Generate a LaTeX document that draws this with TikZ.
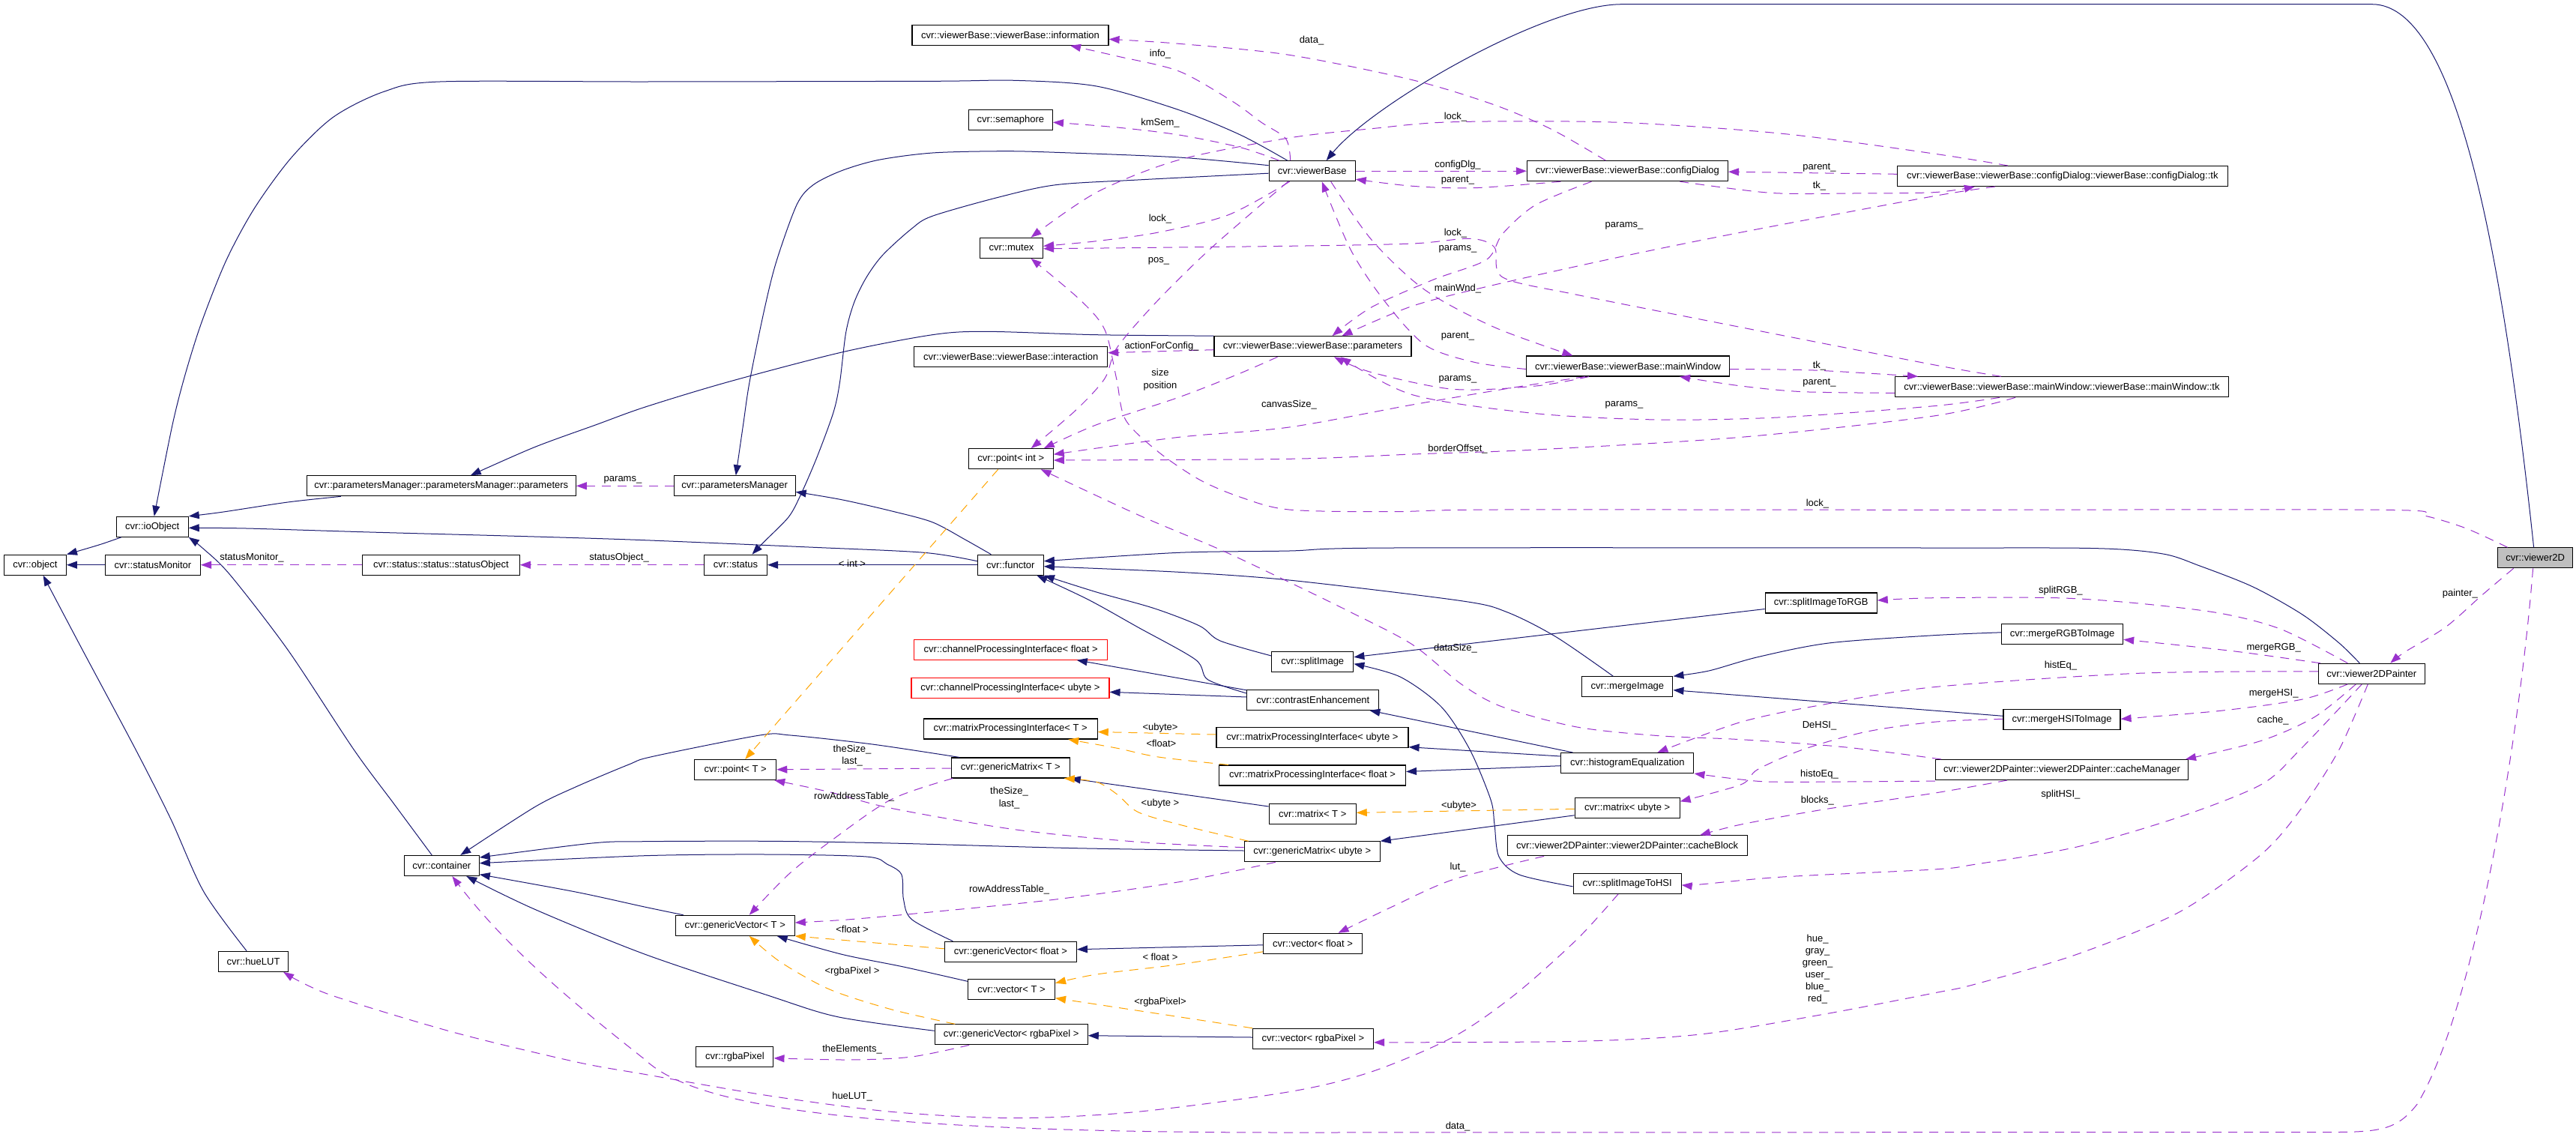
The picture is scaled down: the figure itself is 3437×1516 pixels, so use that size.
\documentclass[tikz,border=0pt]{standalone}
\usepackage{fontspec}
\setmainfont{Liberation Sans}
\usetikzlibrary{arrows.meta}
\definecolor{eblue}{HTML}{191970}
\definecolor{epurple}{HTML}{9A32CD}
\definecolor{eorange}{HTML}{FFA500}
\definecolor{vgray}{HTML}{BFBFBF}
\begin{document}
\begin{tikzpicture}[x=1pt,y=-1pt,
  box/.style={draw=black,line width=1.1pt,fill=white,minimum height=27pt,inner sep=0pt,font=\fontsize{13}{16}\selectfont},
  rbox/.style={box,draw=red},
  lab/.style={inner sep=0pt,font=\fontsize{13}{16.5}\selectfont,align=center},
  inh/.style={draw=eblue,line width=1pt,-{Triangle[length=14pt,width=10pt]}},
  use/.style={draw=epurple,line width=1pt,dash pattern=on 12pt off 9pt,-{Triangle[length=14pt,width=10pt]}},
  tmpl/.style={draw=eorange,line width=1pt,dash pattern=on 12pt off 9pt,-{Triangle[length=14pt,width=10pt]}}]
\fill[white] (0,0) rectangle (3437,1516);
\useasboundingbox (0,0) rectangle (3437,1516);
% nodes
\node[box,minimum width=262pt] (info) at (1348,46.8) {cvr::viewerBase::viewerBase::information};
\node[box,minimum width=112pt] (sem) at (1348.4,160.2) {cvr::semaphore};
\node[box,minimum width=84pt] (mutex) at (1349.5,330.8) {cvr::mutex};
\node[box,minimum width=258pt] (inter) at (1348.7,476.3) {cvr::viewerBase::viewerBase::interaction};
\node[box,minimum width=115pt] (vb) at (1750.7,228.2) {cvr::viewerBase};
\node[box,minimum width=263pt] (vbp) at (1751.5,462.2) {cvr::viewerBase::viewerBase::parameters};
\node[box,minimum width=268pt] (cd) at (2171.4,228.2) {cvr::viewerBase::viewerBase::configDialog};
\node[box,minimum width=271pt] (mw) at (2172,488.5) {cvr::viewerBase::viewerBase::mainWindow};
\node[box,minimum width=441pt] (cdtk) at (2751.8,235) {cvr::viewerBase::viewerBase::configDialog::viewerBase::configDialog::tk};
\node[box,minimum width=445pt] (mwtk) at (2751,516.3) {cvr::viewerBase::viewerBase::mainWindow::viewerBase::mainWindow::tk};
\node[box,minimum width=359pt] (pmp) at (588.8,648.3) {cvr::parametersManager::parametersManager::parameters};
\node[box,minimum width=96pt] (io) at (203.2,702.8) {cvr::ioObject};
\node[box,minimum width=83pt] (obj) at (46.9,753.7) {cvr::object};
\node[box,minimum width=127pt] (sm) at (204,753.7) {cvr::statusMonitor};
\node[box,minimum width=209.5pt] (so) at (588.5,753.7) {cvr::status::status::statusObject};
\node[box,minimum width=162pt] (pm) at (980.1,648.3) {cvr::parametersManager};
\node[box,minimum width=84pt] (st) at (981.5,753.7) {cvr::status};
\node[box,minimum width=88pt] (fn) at (1348.3,753.7) {cvr::functor};
\node[box,minimum width=113pt] (pi) at (1348.7,612.2) {cvr::point< int >};
\node[rbox,minimum width=258pt] (cpf) at (1348.7,866.7) {cvr::channelProcessingInterface< float >};
\node[rbox,minimum width=264pt] (cpu) at (1348,917.7) {cvr::channelProcessingInterface< ubyte >};
\node[box,minimum width=232pt] (mpt) at (1348.2,972.5) {cvr::matrixProcessingInterface< T >};
\node[box,minimum width=176pt] (ce) at (1751.8,933.8) {cvr::contrastEnhancement};
\node[box,minimum width=109pt] (si) at (1751.3,882.7) {cvr::splitImage};
\node[box,minimum width=256pt] (mpu) at (1751,984.2) {cvr::matrixProcessingInterface< ubyte >};
\node[box,minimum width=249pt] (mpf) at (1751,1034.5) {cvr::matrixProcessingInterface< float >};
\node[box,minimum width=158pt] (gmt) at (1348.2,1024.5) {cvr::genericMatrix< T >};
\node[box,minimum width=109pt] (ptt) at (981.2,1027) {cvr::point< T >};
\node[box,minimum width=116pt] (mt) at (1751.2,1085.8) {cvr::matrix< T >};
\node[box,minimum width=181pt] (gmu) at (1750.7,1136.3) {cvr::genericMatrix< ubyte >};
\node[box,minimum width=159pt] (gvt) at (980.7,1234.8) {cvr::genericVector< T >};
\node[box,minimum width=176pt] (gvf) at (1348.4,1269.8) {cvr::genericVector< float >};
\node[box,minimum width=116pt] (vt) at (1349.5,1320.3) {cvr::vector< T >};
\node[box,minimum width=204pt] (gvr) at (1349.2,1380.3) {cvr::genericVector< rgbaPixel >};
\node[box,minimum width=103pt] (rgba) at (980.4,1409.8) {cvr::rgbaPixel};
\node[box,minimum width=132pt] (vf) at (1751.5,1258.8) {cvr::vector< float >};
\node[box,minimum width=161pt] (vr) at (1752,1385.8) {cvr::vector< rgbaPixel >};
\node[box,minimum width=100pt] (cont) at (589.3,1155) {cvr::container};
\node[box,minimum width=93pt] (hue) at (338.1,1282.8) {cvr::hueLUT};
\node[box,minimum width=149pt] (srgb) at (2429.7,804.5) {cvr::splitImageToRGB};
\node[box,minimum width=121pt] (mi) at (2171.4,916.3) {cvr::mergeImage};
\node[box,minimum width=177pt] (he) at (2171.4,1018) {cvr::histogramEqualization};
\node[box,minimum width=140pt] (mu) at (2171.1,1077.8) {cvr::matrix< ubyte >};
\node[box,minimum width=320pt] (cb) at (2171.1,1128.3) {cvr::viewer2DPainter::viewer2DPainter::cacheBlock};
\node[box,minimum width=144pt] (shsi) at (2171.1,1178.8) {cvr::splitImageToHSI};
\node[box,fill=vgray,minimum width=100pt] (v2d) at (3382.6,744.3) {cvr::viewer2D};
\node[box,minimum width=142pt] (pa) at (3164.3,898.8) {cvr::viewer2DPainter};
\node[box,minimum width=162pt] (mrgb) at (2751.6,845.8) {cvr::mergeRGBToImage};
\node[box,minimum width=156pt] (mhsi) at (2751,960.3) {cvr::mergeHSIToImage};
\node[box,minimum width=337pt] (cm) at (2751,1027) {cvr::viewer2DPainter::viewer2DPainter::cacheManager};
% inheritance edges
\draw[inh] plot[smooth] coordinates {([xshift=7pt]io.south west) (132,727) (obj.north east)};
\draw[inh] (sm.west) -- (obj.east);
\draw[inh] plot[smooth] coordinates {([xshift=-9pt]hue.north) (272,1190) (228,1093) (181,1000) (110,867) ([xshift=10.7pt]obj.south)};
\draw[inh] plot[smooth] coordinates {([xshift=-13pt]cont.north) (526,1073) (472,1000) (384,867) (307,767) (270,731) (io.south east)};
\draw[inh] plot[smooth] coordinates {([xshift=-33pt]vb.north) (1655,180) (1573,146.7) (1463,115) (1353.6,107.3) (1244,108.3) (860,109) (587,109) (513,122) (445,156) (389,210) (340,277) (302,347) (269,430) (247,500) (230,567) ([xshift=2.5pt]io.north)};
\draw[inh] plot[smooth] coordinates {([yshift=7.5pt]vb.west) (1573,210) (1408.5,203.3) (1337,201.7) (1244,204) (1172.6,213.3) (1123,227.7) (1085,246.7) (1063,273.3) (1035.5,350) (1019,416.7) (1000,510) (991.6,566.7) ([xshift=1.7pt]pm.north)};
\draw[inh] plot[smooth] coordinates {([yshift=-3pt]vb.west) (1518,240) (1408.5,246.7) (1331.7,263.3) (1244,288.3) (1216.5,305) (1178,340) (1156,370) (1139.7,403.3) (1128.7,443.3) (1120.5,510) (1112,550) (1090,610) (1068.4,660) (1052,690) (1019,723.3) ([xshift=22pt]st.north)};
\draw[inh] plot[smooth] coordinates {(vbp.north west) (1463,446.7) (1315,442.3) (1244,446.7) (1123,470) (970,510) (860,543.3) (795.3,566.7) (713,596.7) ([xshift=39pt]pmp.north)};
\draw[inh] plot[smooth] coordinates {([xshift=-134pt]pmp.south) (384,670) (296,683.3) (io.north east)};
\draw[inh] plot[smooth] coordinates {([yshift=5pt]fn.west) (1233,737.3) (1079.4,730) (860,720.7) (713,716) (493.6,710) (329,705) ([yshift=-1.5pt]io.east)};
\draw[inh] (fn.west) -- (st.east);
\draw[inh] plot[smooth] coordinates {([xshift=-26pt]fn.north) (1287.8,720) (1244,696.7) (1189,681.7) (1123,666.7) ([yshift=-8pt]pm.east)};
\draw[inh] plot[smooth] coordinates {([yshift=7.7pt]si.west) (1628,855) (1600.4,835) (1540,811.7) (1463,790) (fn.south east)};
\draw[inh] plot[smooth] coordinates {([yshift=8.8pt]ce.west) (1611.4,906.7) (1595,880) (1518,836.7) (1452,800) ([xshift=35pt]fn.south)};
\draw[inh] ([yshift=13pt]ce.west) -- ([xshift=88pt]cpf.south);
\draw[inh] ([yshift=3.8pt]ce.west) -- ([yshift=-5.6pt]cpu.east);
\draw[inh] ([yshift=-8pt]srgb.west) -- ([yshift=6pt]si.east);
\draw[inh] plot[smooth] coordinates {([yshift=-4pt]shsi.west) (2027,1167) (2000,1143) (1994,1100) (1989,1067) (1961,1000) (1923,943) (1868,903) ([yshift=-3pt]si.east)};
\draw[inh] plot[smooth] coordinates {([xshift=-19pt]mi.north) (2076.5,850) (2010.7,816.7) (1950,801.7) (1720,774) (1573,763.3) ([yshift=-2pt]fn.east)};
\draw[inh] plot[smooth] coordinates {([xshift=-16pt]pa.north) (3121,858) (3072,820) (3006,783) (2935,755) (2886,739) (2798.6,731.7) (2580,731) (1857,731) (1720,735) (1573,737.3) ([yshift=5pt]fn.east)};
\draw[inh] plot[smooth] coordinates {([yshift=2pt]mrgb.west) (2580,847.7) (2440,858) (2345,876.7) (2280,895) (mi.north east)};
\draw[inh] ([yshift=5pt]mhsi.west) -- ([yshift=-4.4pt]mi.east);
\draw[inh] ([xshift=-73pt]he.north) -- ([xshift=-13pt]ce.south east);
\draw[inh] ([yshift=9pt]he.west) -- ([yshift=-12.5pt]mpu.east);
\draw[inh] ([yshift=-3.7pt]he.west) -- ([yshift=5pt]mpf.east);
\draw[inh] ([yshift=-10pt]mu.west) -- (gmu.north east);
\draw[inh] ([yshift=9.8pt]mt.west) -- (gmt.south east);
\draw[inh] plot[smooth] coordinates {([xshift=-68pt]gmt.north) (1164,993) (1054.7,981) (1013.6,981) (871,1009.3) (839,1020) (768,1050) (713,1077) ([xshift=25pt]cont.north)};
\draw[inh] plot[smooth] coordinates {([yshift=1.3pt]gmu.west) (1436,1131.7) (1189,1125) (1024.5,1122.3) (860,1122.7) (790,1125) ([yshift=11pt]cont.east)};
\draw[inh] plot[smooth] coordinates {([xshift=-77pt]gvf.north) (1216.5,1226.7) (1205.5,1200) (1202.8,1166.7) (1183.6,1153) (1156,1143) (1024.5,1140) (860,1141.7) ([yshift=3.3pt]cont.east)};
\draw[inh] plot[smooth] coordinates {([xshift=-69pt]gvt.north) (860,1210) (768,1190) ([yshift=-11.7pt]cont.east)};
\draw[inh] plot[smooth] coordinates {([yshift=5pt]gvr.west) (1117.8,1356.7) (1024.5,1328) (860,1273) (713,1213) ([xshift=33pt]cont.south)};
\draw[inh] plot[smooth] coordinates {([yshift=11pt]vt.west) (1205.5,1290) (1123.3,1273.3) ([xshift=56pt]gvt.south)};
\draw[inh] ([yshift=-2pt]vf.west) -- ([yshift=3.1pt]gvf.east);
\draw[inh] ([yshift=1.8pt]vr.west) -- ([yshift=-1.4pt]gvr.east);
\draw[inh] ([xshift=-2pt]v2d.north) .. controls (3340,350) and (3280,5.7) .. (3164.8,5.7) -- (2164,5.7) .. controls (2060,5.7) and (1830,140) .. ([xshift=19pt]vb.north);
% usage edges
\draw[use] (so.west) -- (sm.east);
\draw[use] (st.west) -- (so.east);
\draw[use] (pm.west) -- (pmp.east);
\draw[use] plot[smooth] coordinates {([xshift=-29pt]vb.north) (1715.6,185) (1683,163.3) (1644,135) (1573,95) (1490.7,75) ([xshift=80pt]info.south)};
\draw[use] plot[smooth] coordinates {([xshift=-29pt]cd.north) (2071,173) (1994,140) (1884.5,106.7) (1720,73.3) (1573,58.3) ([yshift=-5.5pt]info.east)};
\draw[use] plot[smooth] coordinates {([xshift=-44pt]vb.north) (1655,196.7) (1573,180) (1490.7,170) ([yshift=-3pt]sem.east)};
\draw[use] plot[smooth] coordinates {([xshift=-30pt]vb.south) (1639,286.7) (1545.6,310) (1463,321.7) ([yshift=2.5pt]mutex.east)};
\draw[use] plot[smooth] coordinates {([xshift=-73pt]cdtk.north) (2580,205) (2378,178.3) (2159,163.3) (1939.4,162.7) (1829.7,171.7) (1720,184) (1573,213.3) (1463,256.7) ([xshift=26pt]mutex.north)};
\draw[use] plot[smooth] coordinates {([xshift=-81pt]mwtk.north) (2580,486.7) (2323,436.7) (2104,393.3) (2005,370) (1994,330) (1961,318.3) (1884.5,325) (1720,328.3) ([yshift=-1pt]mutex.east)};
\draw[use] plot[smooth] coordinates {([xshift=-37pt]v2d.north) (3290.5,705) (3236,688.3) (3181,680.3) (2580,680.3) (1994,680) (1857,682.7) (1720,680) (1655,663.3) (1600.4,640) (1545.6,603) (1501.7,560) (1489.6,505) (1474,440) (1441,400) ([xshift=26pt]mutex.south)};
\draw[use] plot[smooth] coordinates {([xshift=-89pt]cd.south) (1967,250.7) (1884.5,248.3) ([yshift=-11pt]vb.east)};
\draw[use] (vb.east) -- (cd.west);
\draw[use] ([yshift=2.7pt]cdtk.west) -- ([yshift=-1pt]cd.east);
\draw[use] plot[smooth] coordinates {([xshift=70pt]cd.south) (2361.7,257.3) (2470,258) (2580,256.7) ([xshift=-117pt]cdtk.south)};
\draw[use] plot[smooth] coordinates {([xshift=-48pt]cd.south) (2049,273.3) (2005,311.7) (1983,346.7) (1912,373.3) (1829.7,410) ([xshift=26pt]vbp.north)};
\draw[use] plot[smooth] coordinates {([xshift=-90pt]cdtk.south) (2580,261.7) (2323,310) (2159,343.3) (1994,380) (1884.5,408.3) ([xshift=39pt]vbp.north)};
\draw[use] plot[smooth] coordinates {([xshift=25pt]vb.south) (1830,320) (1901,386.7) (1994,436.7) ([xshift=-73.6pt]mw.north)};
\draw[use] plot[smooth] coordinates {([yshift=-4pt]mw.west) (1967,483.3) (1901,460) (1846,400) (1802,333) ([xshift=13pt]vb.south)};
\draw[use] plot[smooth] coordinates {([xshift=-52pt]mw.south) (2049,515) (1939,519.3) (1829.7,496.7) ([xshift=28.5pt]vbp.south)};
\draw[use] plot[smooth] coordinates {([xshift=-83pt]mwtk.south) (2580,541.7) (2378,556.7) (2213.6,560) (2049,551.7) (1884.5,526.7) ([xshift=37pt]vbp.south)};
\draw[use] plot[smooth] coordinates {([yshift=-4pt]mw.east) (2420,494) ([xshift=-192pt]mwtk.north)};
\draw[use] plot[smooth] coordinates {([yshift=-8pt]mwtk.west) (2405.6,522.7) (2323,515) ([xshift=69pt]mw.south)};
\draw[use] plot[smooth] coordinates {([xshift=-47pt]vbp.south) (1650,500) (1573,530) (1463,566.7) ([xshift=-13pt]pi.north east)};
\draw[use] plot[smooth] coordinates {([xshift=-32pt]vb.south) (1617,330) (1545.6,400) (1490.7,463.3) (1474,505) (1436,546.7) ([xshift=27pt]pi.north)};
\draw[use] plot[smooth] coordinates {([xshift=-57pt]mw.south) (2021.6,516.7) (1884.5,540) (1720,570) (1573,583.3) ([yshift=6pt]pi.east)};
\draw[use] plot[smooth] coordinates {([xshift=-62pt]mwtk.south) (2580,555) (2323,583.3) (2049,600) (1884.5,606) (1720,612.3) ([yshift=-1.8pt]pi.east)};
\draw[use] ([yshift=-4.5pt]vbp.west) -- ([yshift=5.6pt]inter.east);
\draw[use] plot[smooth] coordinates {([xshift=8pt]cm.north west) (2460,996.7) (2323,986.7) (2213.6,981.7) (2104,970) (2005,943.3) (1950,913) (1884.5,860) (1802,816.7) (1720,776.7) (1628,733.3) (1518,686.7) ([xshift=40pt]pi.south)};
\draw[use] plot[smooth] coordinates {([xshift=-32pt]pa.north) (3044.6,840) (2962.6,818.3) (2853,805) (2744,797.7) (2580,797.7) ([yshift=3.5pt]srgb.east)};
\draw[use] plot[smooth] coordinates {([xshift=3pt]pa.north west) (2990,870) (2900,860) ([yshift=-7.5pt]mrgb.east)};
\draw[use] plot[smooth] coordinates {([yshift=3pt]pa.west) (2853,898.3) (2580,916.7) (2433,940) (2323,963.3) ([xshift=40pt]he.north)};
\draw[use] plot[smooth] coordinates {([xshift=-32pt]pa.south) (3072,933) (2962.6,948.3) ([yshift=1pt]mhsi.east)};
\draw[use] plot[smooth] coordinates {([xshift=-21pt]pa.south) (3088,956.7) (3017,988.3) ([xshift=165pt]cm.north)};
\draw[use] plot[smooth] coordinates {([xshift=-13pt]pa.south) (3069,1000) (3017,1046.7) (2908,1090) (2771,1130) (2634.7,1153.3) (2580,1160) (2378,1170) (2268.5,1180) ([yshift=-2pt]shsi.east)};
\draw[use] plot[smooth] coordinates {([xshift=-5pt]pa.south) (3121,1000) (3072,1076.7) (3017,1140) (2908,1216.7) (2771,1273.3) (2634.7,1313.3) (2580,1325) (2433,1353.3) (2268.5,1380) (2104,1389.3) ([yshift=-5pt]vr.east)};
\draw[use] plot[smooth] coordinates {([xshift=-29pt]v2d.south) (3312.4,793.3) (3263,836.7) (3208.5,870) ([xshift=25pt]pa.north)};
\draw[use] ([xshift=-3pt]v2d.south) .. controls (3360,1000) and (3300,1350) .. (3225,1473.3) .. controls (3200,1505) and (3180,1510) .. (3120,1510.5) -- (1720,1511) .. controls (1100,1511) and (920,1470) .. (860,1413.3) .. controls (780,1350) and (680,1270) .. ([xshift=14pt]cont.south);
\draw[use] plot[smooth] coordinates {([xshift=-12pt]shsi.south) (2104,1253.3) (2021.6,1326.7) (1939.4,1383.3) (1829.7,1430) (1720,1456.7) (1518,1483.3) (1353.6,1491.7) (1189,1483.3) (1024.5,1461.7) (860,1433.3) (768,1416.7) (603,1376.7) (438.8,1326.7) ([xshift=40pt]hue.south)};
\draw[use] plot[smooth] coordinates {([xshift=-111pt]cb.south) (1939.4,1173.3) (1857,1210) ([xshift=34pt]vf.north)};
\draw[use] plot[smooth] coordinates {([yshift=1pt]mhsi.west) (2580,963.3) (2488,976.7) (2405.6,1000) (2345,1026.7) (2323,1046.7) ([yshift=8.5pt]mu.east)};
\draw[use] plot[smooth] coordinates {([yshift=-1pt]cm.south west) (2378,1043.3) (2323,1040) (he.south east)};
\draw[use] plot[smooth] coordinates {([xshift=-73pt]cm.south) (2580,1058.3) (2433,1080) (2323,1100) ([xshift=97pt]cb.north)};
\draw[use] plot[smooth] coordinates {([xshift=-77pt]gmt.south) (1189,1066.7) (1106.8,1123.3) (1052,1166.7) ([xshift=19pt]gvt.north)};
\draw[use] plot[smooth] coordinates {([xshift=-49pt]gmu.south) (1573,1176.7) (1408.5,1200) (1244,1216.7) (1134,1226.7) ([yshift=3.8pt]gvt.east)};
\draw[use] ([yshift=-0.5pt]gmt.west) -- ([yshift=0.3pt]ptt.east);
\draw[use] plot[smooth] coordinates {([yshift=5.6pt]gmu.west) (1518,1123.3) (1353.6,1106.7) (1189,1078.3) (1106.8,1056.7) ([xshift=-3pt]ptt.south east)};
\draw[use] plot[smooth] coordinates {([xshift=-56pt]gvr.south) (1216.5,1410) (1134,1414) ([yshift=-2pt]rgba.east)};
% template edges
\draw[tmpl] ([xshift=-17pt]pi.south) -- ([xshift=13pt]ptt.north);
\draw[tmpl] ([yshift=4.2pt]mpu.west) -- ([yshift=-4pt]mpt.east);
\draw[tmpl] plot[smooth] coordinates {([xshift=-112pt]mpf.north) (1545.6,1010) (1490.7,998.3) ([xshift=77pt]mpt.south)};
\draw[tmpl] plot[smooth] coordinates {([xshift=-85pt]gmu.north) (1573,1100) (1518,1083.3) (1490.7,1060) (1463,1043.3) ([xshift=-8pt]gmt.south east)};
\draw[tmpl] ([yshift=-1.5pt]mu.west) -- ([yshift=1.5pt]mt.east);
\draw[tmpl] ([yshift=4pt]gvf.west) -- (gvt.south east);
\draw[tmpl] plot[smooth] coordinates {([xshift=-75pt]gvr.north) (1189,1346.7) (1106.8,1320) (1041,1283.3) ([xshift=19pt]gvt.south)};
\draw[tmpl] plot[smooth] coordinates {([yshift=-11pt]vf.west) (1573,1286.7) (1463,1300) ([yshift=8.6pt]vt.east)};
\draw[tmpl] plot[smooth] coordinates {(vr.north west) (1573,1356.7) (1463,1340) ([yshift=-11.4pt]vt.east)};
% labels
\node[lab] (l1) at (336,744) {statusMonitor\_};
\node[lab] (l2) at (826,744) {statusObject\_};
\node[lab] (l3) at (831,640) {params\_};
\node[lab] (l4) at (1548,71.7) {info\_};
\node[lab] (l5) at (1750,54.3) {data\_};
\node[lab] (l6) at (1548,164.3) {kmSem\_};
\node[lab] (l7) at (1548,291.7) {lock\_};
\node[lab] (l8) at (1942,155.7) {lock\_};
\node[lab] (l9) at (1942,310.7) {lock\_};
\node[lab] (l10) at (2425,671.7) {lock\_};
\node[lab] (l11) at (1945,240.7) {parent\_};
\node[lab] (l12) at (1945,220) {configDlg\_};
\node[lab] (l13) at (2427.5,224) {parent\_};
\node[lab] (l14) at (2427.5,248.3) {tk\_};
\node[lab] (l15) at (1945,332.7) {params\_};
\node[lab] (l16) at (2167,301.7) {params\_};
\node[lab] (l17) at (1945,385) {mainWnd\_};
\node[lab] (l18) at (1945,448.3) {parent\_};
\node[lab] (l19) at (1945,506.7) {params\_};
\node[lab] (l20) at (2167,540) {params\_};
\node[lab] (l21) at (2427.5,487.7) {tk\_};
\node[lab] (l22) at (2427.5,511) {parent\_};
\node[lab] (l23) at (1548,506.7) {size\\position};
\node[lab] (l24) at (1546,348.3) {pos\_};
\node[lab] (l25) at (1720,540) {canvasSize\_};
\node[lab] (l26) at (1945,599) {borderOffset\_};
\node[lab] (l27) at (1550,461.7) {actionForConfig\_};
\node[lab] (l28) at (1942,865) {dataSize\_};
\node[lab] (l29) at (2749.4,788.3) {splitRGB\_};
\node[lab] (l30) at (3033.6,864) {mergeRGB\_};
\node[lab] (l31) at (2749.4,888.3) {histEq\_};
\node[lab] (l32) at (3033.6,925) {mergeHSI\_};
\node[lab] (l33) at (3032.6,961) {cache\_};
\node[lab] (l34) at (2749.4,1060) {splitHSI\_};
\node[lab,font=\fontsize{13}{16}\selectfont] (l35) at (2425,1292.7) {hue\_\\gray\_\\green\_\\user\_\\blue\_\\red\_};
\node[lab] (l36) at (3282.3,791.7) {painter\_};
\node[lab] (l37) at (1945,1503) {data\_};
\node[lab] (l38) at (1137,1463.3) {hueLUT\_};
\node[lab] (l39) at (1945,1156.7) {lut\_};
\node[lab] (l40) at (2427.5,968.3) {DeHSI\_};
\node[lab] (l41) at (2427.5,1032.7) {histoEq\_};
\node[lab] (l42) at (2424.8,1067.7) {blocks\_};
\node[lab] (l43) at (1139.7,1063.3) {rowAddressTable\_};
\node[lab] (l44) at (1346.5,1186.7) {rowAddressTable\_};
\node[lab] (l45) at (1137,1008.3) {theSize\_\\last\_};
\node[lab] (l46) at (1346.5,1064.7) {theSize\_\\last\_};
\node[lab] (l47) at (1137,1400) {theElements\_};
\node[lab] (o1) at (1137,751.7) {< int >};
\node[lab] (o2) at (1548,971) {<ubyte>};
\node[lab] (o3) at (1549.4,991.7) {<float>};
\node[lab] (o4) at (1548,1071.7) {<ubyte >};
\node[lab] (o5) at (1946.5,1075) {<ubyte>};
\node[lab] (o6) at (1137,1240) {<float >};
\node[lab] (o7) at (1137,1295.7) {<rgbaPixel >};
\node[lab] (o8) at (1548,1276.7) {< float >};
\node[lab] (o9) at (1548,1336.7) {<rgbaPixel>};
\end{tikzpicture}
\end{document}
